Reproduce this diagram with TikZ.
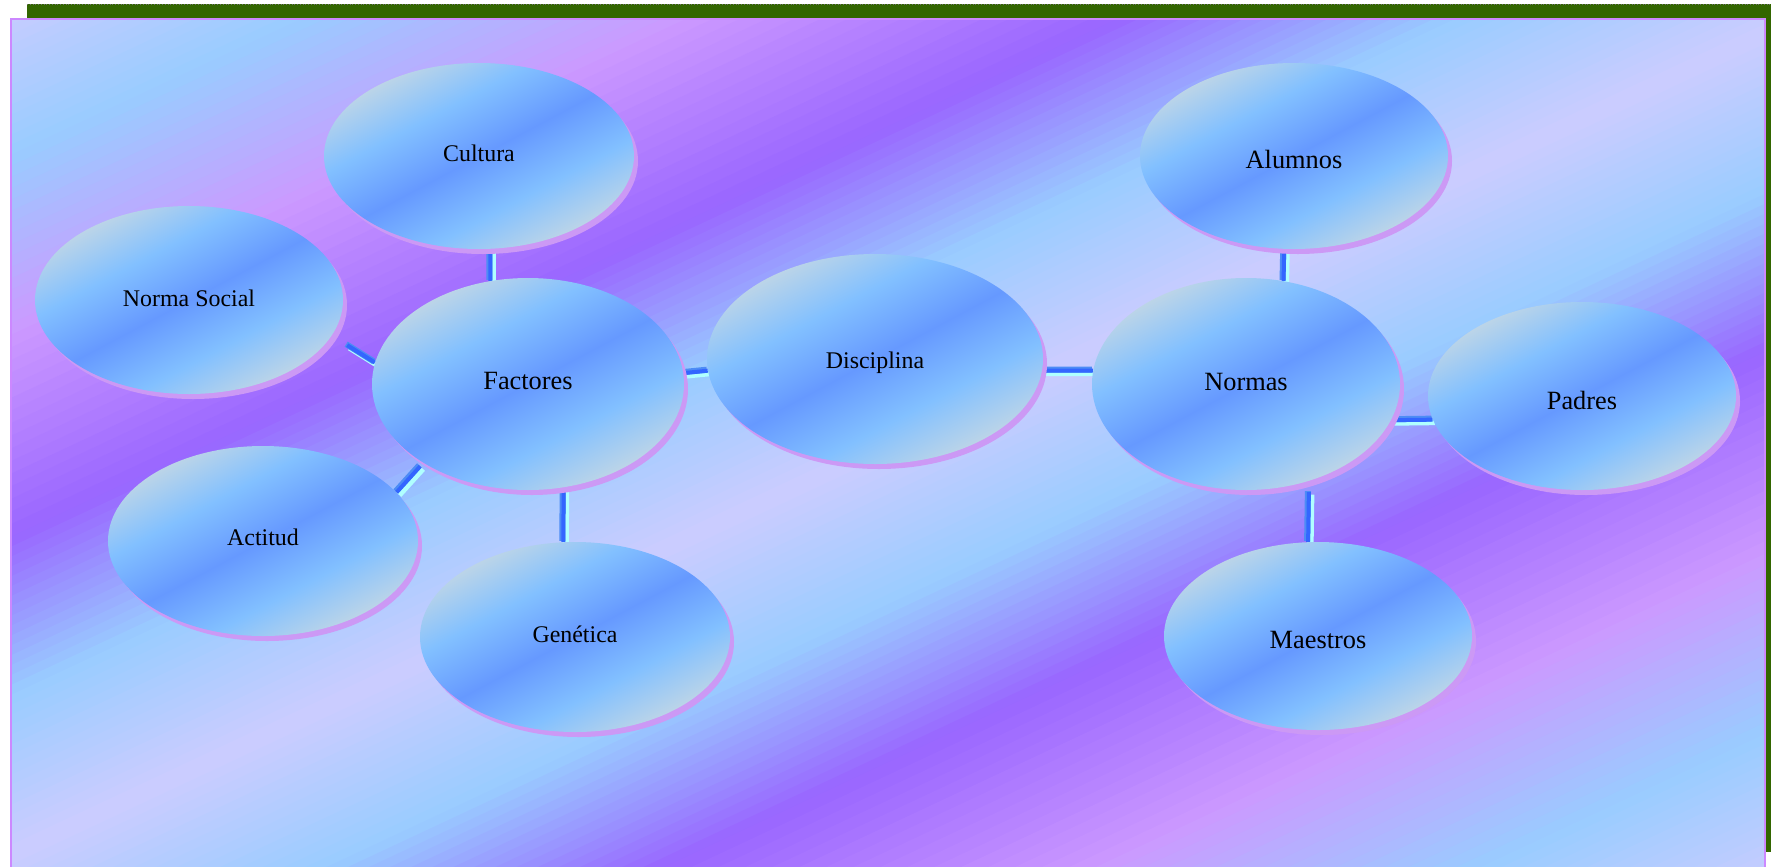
\documentclass[tikz,border=0pt]{standalone}
\usepackage{fontspec}
\setmainfont{Liberation Serif}
\usetikzlibrary{shapes.geometric,shadows}
\definecolor{bgLav}{HTML}{CCCCFF}
\definecolor{bgBlue}{HTML}{99CCFF}
\definecolor{bgPink}{HTML}{CC99FF}
\definecolor{bgPurp}{HTML}{9966FF}
\definecolor{frameC}{HTML}{CC88FF}
\definecolor{greenC}{HTML}{336600}
\definecolor{shPink}{HTML}{CC99F5}
\definecolor{elEdge}{HTML}{C0D6E6}
\definecolor{elLight}{HTML}{82C0FF}
\definecolor{elMid}{HTML}{6699FF}
\definecolor{cnBlue}{HTML}{3366FF}
\definecolor{cnLight}{HTML}{4D8CF5}
\definecolor{cnPale}{HTML}{B0FFFF}
\pgfdeclareverticalshading{ellgrad}{100bp}{color(0bp)=(elEdge); color(25bp)=(elEdge); color(37.5bp)=(elLight); color(50bp)=(elMid); color(62.5bp)=(elLight); color(75bp)=(elEdge); color(100bp)=(elEdge)}
\pgfdeclarelayer{bglayer}
\pgfdeclarelayer{connlayer}
\pgfsetlayers{bglayer,connlayer,main}
\newcommand\connect[3][]{%
  \begin{pgfonlayer}{connlayer}
    \draw[cpale,#1] ([shift={(2.5,2.5)}]#2) -- ([shift={(2.5,2.5)}]#3);
    \draw[clight,#1] ([shift={(-1,-1)}]#2) -- ([shift={(-1,-1)}]#3);
    \draw[cblue,#1] (#2) -- (#3);
  \end{pgfonlayer}}
% text with its baseline #1 pixels below the node centre
\newcommand\tx[2]{\smash{\raisebox{-#1\dimexpr 0.02cm\relax}{#2}}}
\begin{document}
\begin{tikzpicture}[x=0.02cm,y=-0.02cm,
  ell/.style 2 args={ellipse, inner sep=0pt, minimum width=#1*0.02cm, minimum height=#2*0.02cm,
    shade, shading=ellgrad, shading angle=28,
    drop shadow={shadow xshift=0.08cm, shadow yshift=-0.1cm, fill=shPink, opacity=1}},
  big/.style={font=\fontsize{15}{18}\selectfont},
  small/.style={font=\fontsize{13.6}{16}\selectfont},
  cpale/.style={draw=cnPale, line width=0.12cm},
  clight/.style={draw=cnLight, line width=0.12cm},
  cblue/.style={draw=cnBlue, line width=0.08cm}]
\useasboundingbox (0,0) rectangle (1771,866);
\begin{pgfonlayer}{bglayer}
  \fill[white] (0,0) rectangle (1771,866);
  \fill[greenC] (27,4) rectangle (1771,852);
  \draw[black!55, densely dotted, line width=0.02cm] (27,4.5) -- (1771,4.5);
  \begin{scope}
    \clip (11,19) rectangle (1765,870);
    \foreach \pa/\pb/\ca/\cb in {0/160/bgLav/bgBlue, 160/340/bgBlue/bgPink, 340/542/bgPink/bgPurp, 542/700/bgPurp/bgBlue, 700/860/bgBlue/bgLav, 860/1020/bgLav/bgBlue, 1020/1178/bgBlue/bgPurp, 1178/1380/bgPurp/bgPink, 1380/1560/bgPink/bgBlue, 1560/1720/bgBlue/bgLav}{
      \foreach \k in {0,...,15}{
        \pgfmathsetmacro{\ps}{\pa+(\pb-\pa)*\k/16}
        \pgfmathsetmacro{\pe}{\pa+(\pb-\pa)*(\k+1)/16+1.5}
        \pgfmathsetmacro{\pc}{100*(\k+0.5)/16}
        \colorlet{stripC}{\cb!\pc!\ca}
        \fill[stripC] (0,\ps) -- (1771,\ps-829) -- (1771,\pe-829) -- (0,\pe) -- cycle;
      }
    }
  \end{scope}
  \draw[frameC, line width=0.04cm] (11,19) rectangle (1765,870);
\end{pgfonlayer}

\node[ell={310}{186}, small] (cul) at (479,156) {\tx{5}{Cultura}};
\node[ell={308}{188}, small] (nso) at (189,300) {\tx{6}{Norma Social}};
\node[ell={312}{212}, big]   (fac) at (528,384) {\tx{5}{Factores}};
\node[ell={310}{190}, small] (act) at (263,541) {\tx{4}{Actitud}};
\node[ell={310}{190}, small] (gen) at (575,637) {\tx{5}{Genética}};
\node[ell={336}{210}, small] (dis) at (875,359) {\tx{9}{Disciplina}};
\node[ell={308}{212}, big]   (nor) at (1246,384) {\tx{6}{Normas}};
\node[ell={308}{186}, big]   (alu) at (1294,156) {\tx{12}{Alumnos}};
\node[ell={308}{188}, big]   (pad) at (1582,396) {\tx{13}{Padres}};
\node[ell={308}{188}, big]   (mae) at (1318,636) {\tx{12}{Maestros}};

\connect{cul.-83.3}{fac.110.2}
\connect[shorten <=0.36cm]{nso.-14.8}{fac.172.4}
\connect[shorten >=0.09cm]{act.20.5}{fac.217.9}
\connect{fac.-71.8}{gen.97.8}
\connect{fac.4.6}{dis.184.3}
\connect{dis.-4.5}{nor.175.5}
\connect{nor.-14}{pad.189.2}
\connect{alu.-96.7}{nor.70.2}
\connect[shorten <=0.22cm]{nor.-57.9}{mae.96.7}
\end{tikzpicture}
\end{document}
